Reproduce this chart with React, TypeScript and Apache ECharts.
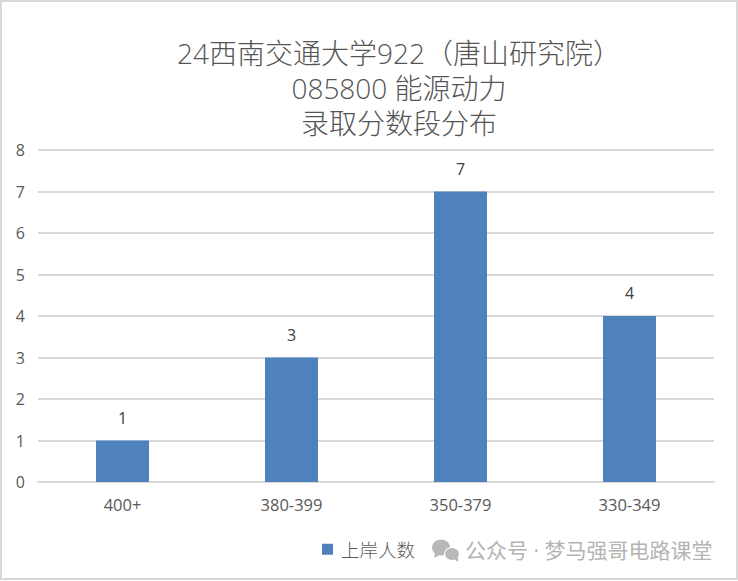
import React, { useEffect, useRef } from "react";
import * as echarts from "echarts";

const categories = ["400+", "380-399", "350-379", "330-349"];
const values = [1, 3, 7, 4];
const seriesName = "上岸人数";
const titleLines = ["24西南交通大学922（唐山研究院）", "085800 能源动力", "录取分数段分布"];
const watermark = "公众号 · 梦马强哥电路课堂";

const FONT = '"Open Sans", "Noto Sans CJK SC", sans-serif';

export default function App() {
  const ref = useRef<HTMLDivElement>(null);
  useEffect(() => {
    document.body.style.margin = "0";
    const chart = echarts.init(ref.current!, null, { renderer: "svg" });
    chart.setOption({
      animation: false,
      backgroundColor: "#ffffff",
      title: {
        text: titleLines.join("\n"),
        left: 394,
        top: 30,
        textAlign: "center",
        textStyle: {
          fontFamily: FONT,
          fontSize: 28,
          fontWeight: 300,
          color: "#555555",
          lineHeight: 35,
        },
      },
      legend: {
        left: 317,
        top: 535,
        itemWidth: 11,
        itemHeight: 11,
        icon: "rect",
        textStyle: { fontFamily: FONT, fontSize: 18.5, fontWeight: 300, color: "#595959", padding: [0, 0, 0, 3] },
        data: [seriesName],
      },
      grid: { left: 38, right: 24, top: 150, bottom: 99, containLabel: false },
      xAxis: {
        type: "category",
        data: categories,
        axisTick: { show: false },
        axisLine: { lineStyle: { color: "#d9d9d9", width: 2 } },
        axisLabel: { fontFamily: FONT, fontSize: 16.5, color: "#595959", margin: 14 },
      },
      yAxis: {
        type: "value",
        min: 0,
        max: 8,
        interval: 1,
        axisLine: { show: false },
        axisTick: { show: false },
        axisLabel: { fontFamily: FONT, fontSize: 16, color: "#595959", margin: 13 },
        splitLine: { lineStyle: { color: "#d9d9d9", width: 2 } },
      },
      series: [
        {
          name: seriesName,
          type: "bar",
          data: values,
          barWidth: 53,
          itemStyle: { color: "#4f81bd" },
          label: {
            show: true,
            position: "top",
            distance: 15,
            fontFamily: FONT,
            fontSize: 16,
            color: "#404040",
          },
        },
      ],
      graphic: [
        {
          type: "rect",
          silent: true,
          shape: { x: 1, y: 1, width: 736, height: 578 },
          style: { fill: "none", stroke: "#d9d9d9", lineWidth: 2 },
        },
        { type: "ellipse", shape: { cx: 441, cy: 547.5, rx: 9, ry: 8 }, style: { fill: "#b8b8b8" } },
        { type: "polygon", shape: { points: [[435, 553], [434, 558], [440, 555]] }, style: { fill: "#b8b8b8" } },
        { type: "ellipse", shape: { cx: 452, cy: 554, rx: 7.5, ry: 6.5 }, style: { fill: "#b8b8b8", stroke: "#ffffff", lineWidth: 1.2 } },
        { type: "polygon", shape: { points: [[454, 559], [458, 562], [458, 557]] }, style: { fill: "#b8b8b8" } },
        {
          type: "text",
          x: 465,
          y: 550,
          style: {
            text: watermark,
            fontFamily: FONT,
            fontSize: 21,
            fill: "#b4b4b4",
            verticalAlign: "middle",
          },
        },
      ],
    });
    return () => chart.dispose();
  }, []);
  return <div ref={ref} style={{ position: "absolute", left: 0, top: 0, width: 738, height: 581 }} />;
}
